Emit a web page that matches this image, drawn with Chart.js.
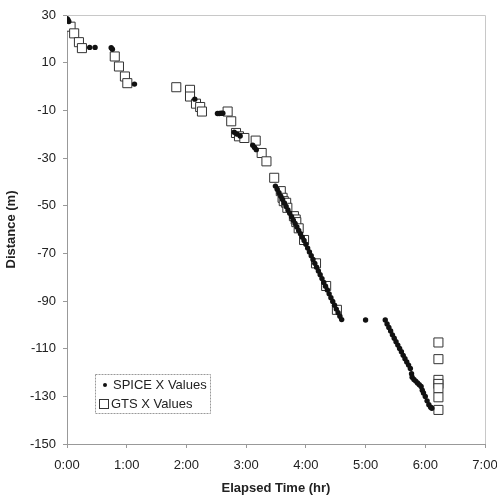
<!DOCTYPE html>
<html>
<head>
<meta charset="utf-8">
<script src="https://cdn.jsdelivr.net/npm/chart.js@4/dist/chart.umd.min.js"></script>
<style>
  html, body { margin: 0; padding: 0; background: #fff; }
  #wrap { width: 497px; height: 500px; }
</style>
</head>
<body>
<div id="wrap"><canvas id="chart" width="497" height="500"></canvas></div>
<script>
// elapsed time in hours, distance in m
const spiceTime = [
  0.0, 0.015, 0.03,
  0.38, 0.47,
  0.74, 0.76,
  1.13,
  2.14,
  2.52, 2.55, 2.58, 2.61,
  2.80, 2.85, 2.90,
  3.11, 3.14, 3.17,
  3.49, 3.52, 3.55, 3.58, 3.61, 3.64, 3.67, 3.70, 3.73, 3.76, 3.79, 3.82, 3.85, 3.88, 3.91, 3.94,
  3.97, 4.00, 4.03, 4.06, 4.09, 4.12, 4.15, 4.18, 4.21, 4.24, 4.27, 4.30, 4.33, 4.36, 4.39, 4.42,
  4.45, 4.48, 4.51, 4.54, 4.57, 4.60,
  5.00,
  5.33, 5.36, 5.39, 5.42, 5.45, 5.48, 5.51, 5.54, 5.57, 5.60, 5.63, 5.66, 5.69, 5.72, 5.75,
  5.77, 5.78, 5.81, 5.84, 5.87, 5.90, 5.93, 5.95, 5.97, 6.00, 6.03, 6.06, 6.09, 6.11
];
const spiceDist = [
  28.5, 28.0, 27.3,
  16.4, 16.4,
  16.3, 15.6,
  1.0,
  -5.3,
  -11.3, -11.3, -11.2, -11.2,
  -19.2, -20.0, -20.8,
  -24.6, -25.6, -26.5,
  -41.8, -43.1, -44.6, -46.0, -47.4, -48.9, -50.3, -51.8, -53.2, -54.6, -56.1, -57.5, -58.9, -60.4, -61.8, -63.2,
  -64.6, -66.2, -67.8, -69.4, -71.0, -72.6, -74.2, -75.8, -77.4, -79.0, -80.6, -82.2, -83.8, -85.4, -87.0, -88.6,
  -90.2, -91.8, -93.4, -94.9, -96.4, -97.8,
  -98.0,
  -98.0, -99.6, -101.1, -102.6, -104.2, -105.6, -107.1, -108.5, -109.9, -111.3, -112.8, -114.2, -115.6, -116.9, -118.3,
  -120.5, -122.0, -122.9, -123.6, -124.4, -125.1, -125.9, -127.4, -128.6, -130.1, -131.9, -133.5, -134.6, -135.0
];
const gtsTime = [
  0.06, 0.12, 0.20, 0.25,
  0.80, 0.87, 0.97, 1.01,
  1.83, 2.06, 2.06, 2.16, 2.23, 2.26,
  2.69, 2.75, 2.83, 2.88, 2.97, 3.16, 3.26, 3.34, 3.47,
  3.58, 3.61, 3.63, 3.67, 3.69, 3.80, 3.83, 3.84, 3.88, 3.97,
  4.17, 4.34, 4.52,
  6.22, 6.22, 6.22, 6.22, 6.22, 6.22, 6.22
];
const gtsDist = [
  25.1, 22.3, 18.6, 16.1,
  12.6, 8.4, 4.2, 1.4,
  -0.3, -1.4, -4.2, -7.2, -8.6, -10.5,
  -10.5, -14.6, -19.5, -20.9, -21.6, -22.7, -27.9, -31.4, -38.3,
  -43.9, -46.7, -48.1, -48.8, -50.9, -54.4, -55.8, -56.9, -59.5, -64.4,
  -74.2, -83.7, -93.7,
  -107.4, -114.4, -123.1, -124.8, -126.6, -130.4, -135.7
];
const xTicks = ["0:00", "1:00", "2:00", "3:00", "4:00", "5:00", "6:00", "7:00"];
const legendLabels = ["SPICE X Values", "GTS X Values"];

const FONT = "'Liberation Sans', Arial, sans-serif";

function toPoints(xs, ys) {
  return xs.map((x, i) => ({ x: x, y: ys[i] }));
}

// light frame round the plot area, plus the boxed legend in the lower left
const framePlugin = {
  id: "frame",
  beforeDatasetsDraw(chart) {
    const { ctx, chartArea: a } = chart;
    ctx.save();
    ctx.strokeStyle = "#c8c8c8";
    ctx.lineWidth = 1;
    ctx.beginPath();
    ctx.moveTo(a.left, a.top + 0.5);
    ctx.lineTo(a.right + 0.5, a.top + 0.5);
    ctx.lineTo(a.right + 0.5, a.bottom);
    ctx.stroke();
    ctx.restore();
  },
  afterDraw(chart) {
    const ctx = chart.ctx;
    ctx.save();
    ctx.fillStyle = "#fff";
    ctx.fillRect(95, 374, 115, 39);
    ctx.setLineDash([2, 1]);
    ctx.strokeStyle = "#999";
    ctx.lineWidth = 1;
    ctx.strokeRect(95.5, 374.5, 115, 39);
    ctx.setLineDash([]);
    // dot marker
    ctx.fillStyle = "#111";
    ctx.beginPath();
    ctx.arc(105, 385, 2, 0, Math.PI * 2);
    ctx.fill();
    // square marker
    ctx.strokeStyle = "#333";
    ctx.strokeRect(99.5, 399.5, 9, 9);
    ctx.fillStyle = "#222";
    ctx.font = "13px " + FONT;
    ctx.textBaseline = "middle";
    ctx.fillText(legendLabels[0], 113, 385);
    ctx.fillText(legendLabels[1], 111, 404);
    ctx.restore();
  }
};

new Chart(document.getElementById("chart"), {
  type: "scatter",
  data: {
    datasets: [
      {
        label: legendLabels[1],
        data: toPoints(gtsTime, gtsDist),
        pointStyle: "rect",
        pointRadius: 6.4,
        borderColor: "#333",
        backgroundColor: "#fff",
        borderWidth: 1,
        order: 2
      },
      {
        label: legendLabels[0],
        data: toPoints(spiceTime, spiceDist),
        pointStyle: "circle",
        pointRadius: 2.7,
        borderWidth: 0,
        backgroundColor: "#111",
        order: 1
      }
    ]
  },
  options: {
    responsive: false,
    animation: false,
    layout: { padding: { top: 15, right: 0, left: 0, bottom: 0 } },
    plugins: {
      legend: { display: false },
      tooltip: { enabled: false }
    },
    scales: {
      x: {
        type: "linear",
        min: 0,
        max: 7,
        ticks: {
          stepSize: 1,
          color: "#222",
          font: { family: FONT, size: 13 },
          padding: 10,
          maxRotation: 0,
          callback: (v) => xTicks[v]
        },
        grid: { drawOnChartArea: false, tickLength: 4, color: "#999" },
        border: { color: "#999" },
        title: {
          display: true,
          text: "Elapsed Time (hr)",
          color: "#222",
          font: { family: FONT, size: 13, weight: "bold" }
        },
        afterFit: (s) => { s.height = 56; s.paddingRight = 12; }
      },
      y: {
        min: -150,
        max: 30,
        ticks: {
          stepSize: 20,
          color: "#222",
          font: { family: FONT, size: 13 },
          padding: 7
        },
        grid: { drawOnChartArea: false, tickLength: 4, color: "#999" },
        border: { color: "#999" },
        title: {
          display: true,
          text: "Distance (m)",
          color: "#222",
          font: { family: FONT, size: 13, weight: "bold" }
        },
        afterFit: (s) => { s.width = 67; }
      }
    }
  },
  plugins: [framePlugin]
});
</script>
</body>
</html>
